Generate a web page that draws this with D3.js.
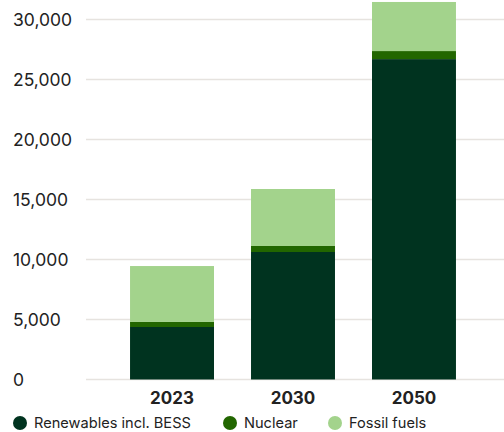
<!DOCTYPE html>
<html>
<head>
<meta charset="utf-8">
<script src="https://cdn.jsdelivr.net/npm/d3@7"></script>
<style>
  html, body { margin: 0; padding: 0; background: #fff; }
  svg { display: block; font-family: Inter, "Noto Sans", sans-serif; }
</style>
</head>
<body>
<svg id="chart" width="504" height="432"></svg>
<script>
// Installed capacity by source (MW)
const years = ["2023", "2030", "2050"];
const renewables = [4375, 10625, 26700];
const nuclear = [420, 500, 670];
const fossil = [4660, 4750, 4090];
const seriesNames = ["Renewables incl. BESS", "Nuclear", "Fossil fuels"];
const seriesColors = ["#00331f", "#226600", "#a3d38c"];
const yTicks = [0, 5000, 10000, 15000, 20000, 25000, 30000];

const svg = d3.select("#chart");
const W = 504;

const rows = years.map((y, i) => ({
  year: y,
  r: renewables[i],
  n: nuclear[i],
  f: fossil[i]
}));
const stacked = d3.stack().keys(["r", "n", "f"])(rows);

const x = d3.scaleBand()
  .domain(years)
  .range([86, 500])
  .paddingInner(0.306)
  .paddingOuter(0.364);

const y = d3.scaleLinear()
  .domain([0, 30000])
  .range([379.5, 19.5]);

// gridlines
svg.append("g")
  .selectAll("line")
  .data(yTicks)
  .join("line")
  .attr("x1", 86)
  .attr("x2", W)
  .attr("y1", d => y(d))
  .attr("y2", d => y(d))
  .attr("stroke", "#e6e3df")
  .attr("stroke-width", 1.5);

// y tick labels, left aligned
const fmt = d3.format(",");
svg.append("g")
  .selectAll("text")
  .data(yTicks)
  .join("text")
  .attr("x", 13)
  .attr("y", d => y(d))
  .attr("dy", "0.35em")
  .attr("font-size", 17.5)
  .attr("fill", "#222")
  .text(d => fmt(d));

// stacked bars
svg.append("g")
  .selectAll("g")
  .data(stacked)
  .join("g")
  .attr("fill", (d, i) => seriesColors[i])
  .selectAll("rect")
  .data(d => d)
  .join("rect")
  .attr("x", d => x(d.data.year))
  .attr("width", x.bandwidth())
  .attr("y", d => y(d[1]))
  .attr("height", d => y(d[0]) - y(d[1]));

// x axis labels
const xAxis = d3.axisBottom(x).tickSize(0).tickPadding(0);
const gx = svg.append("g")
  .attr("transform", "translate(0,398)")
  .call(xAxis);
gx.select(".domain").remove();
gx.selectAll("text")
  .attr("dy", "0.35em")
  .attr("y", 0)
  .attr("font-family", "Inter, sans-serif")
  .attr("font-size", 17)
  .attr("font-weight", 700)
  .attr("fill", "#222");

// legend
const legendX = [20, 230, 335];
const lg = svg.append("g")
  .selectAll("g")
  .data(seriesNames)
  .join("g")
  .attr("transform", (d, i) => `translate(${legendX[i]},423)`);
lg.append("circle")
  .attr("r", 7)
  .attr("fill", (d, i) => seriesColors[i]);
lg.append("text")
  .attr("x", 14)
  .attr("dy", "0.35em")
  .attr("font-size", 14.6)
  .attr("fill", "#222")
  .text(d => d);
</script>
</body>
</html>
